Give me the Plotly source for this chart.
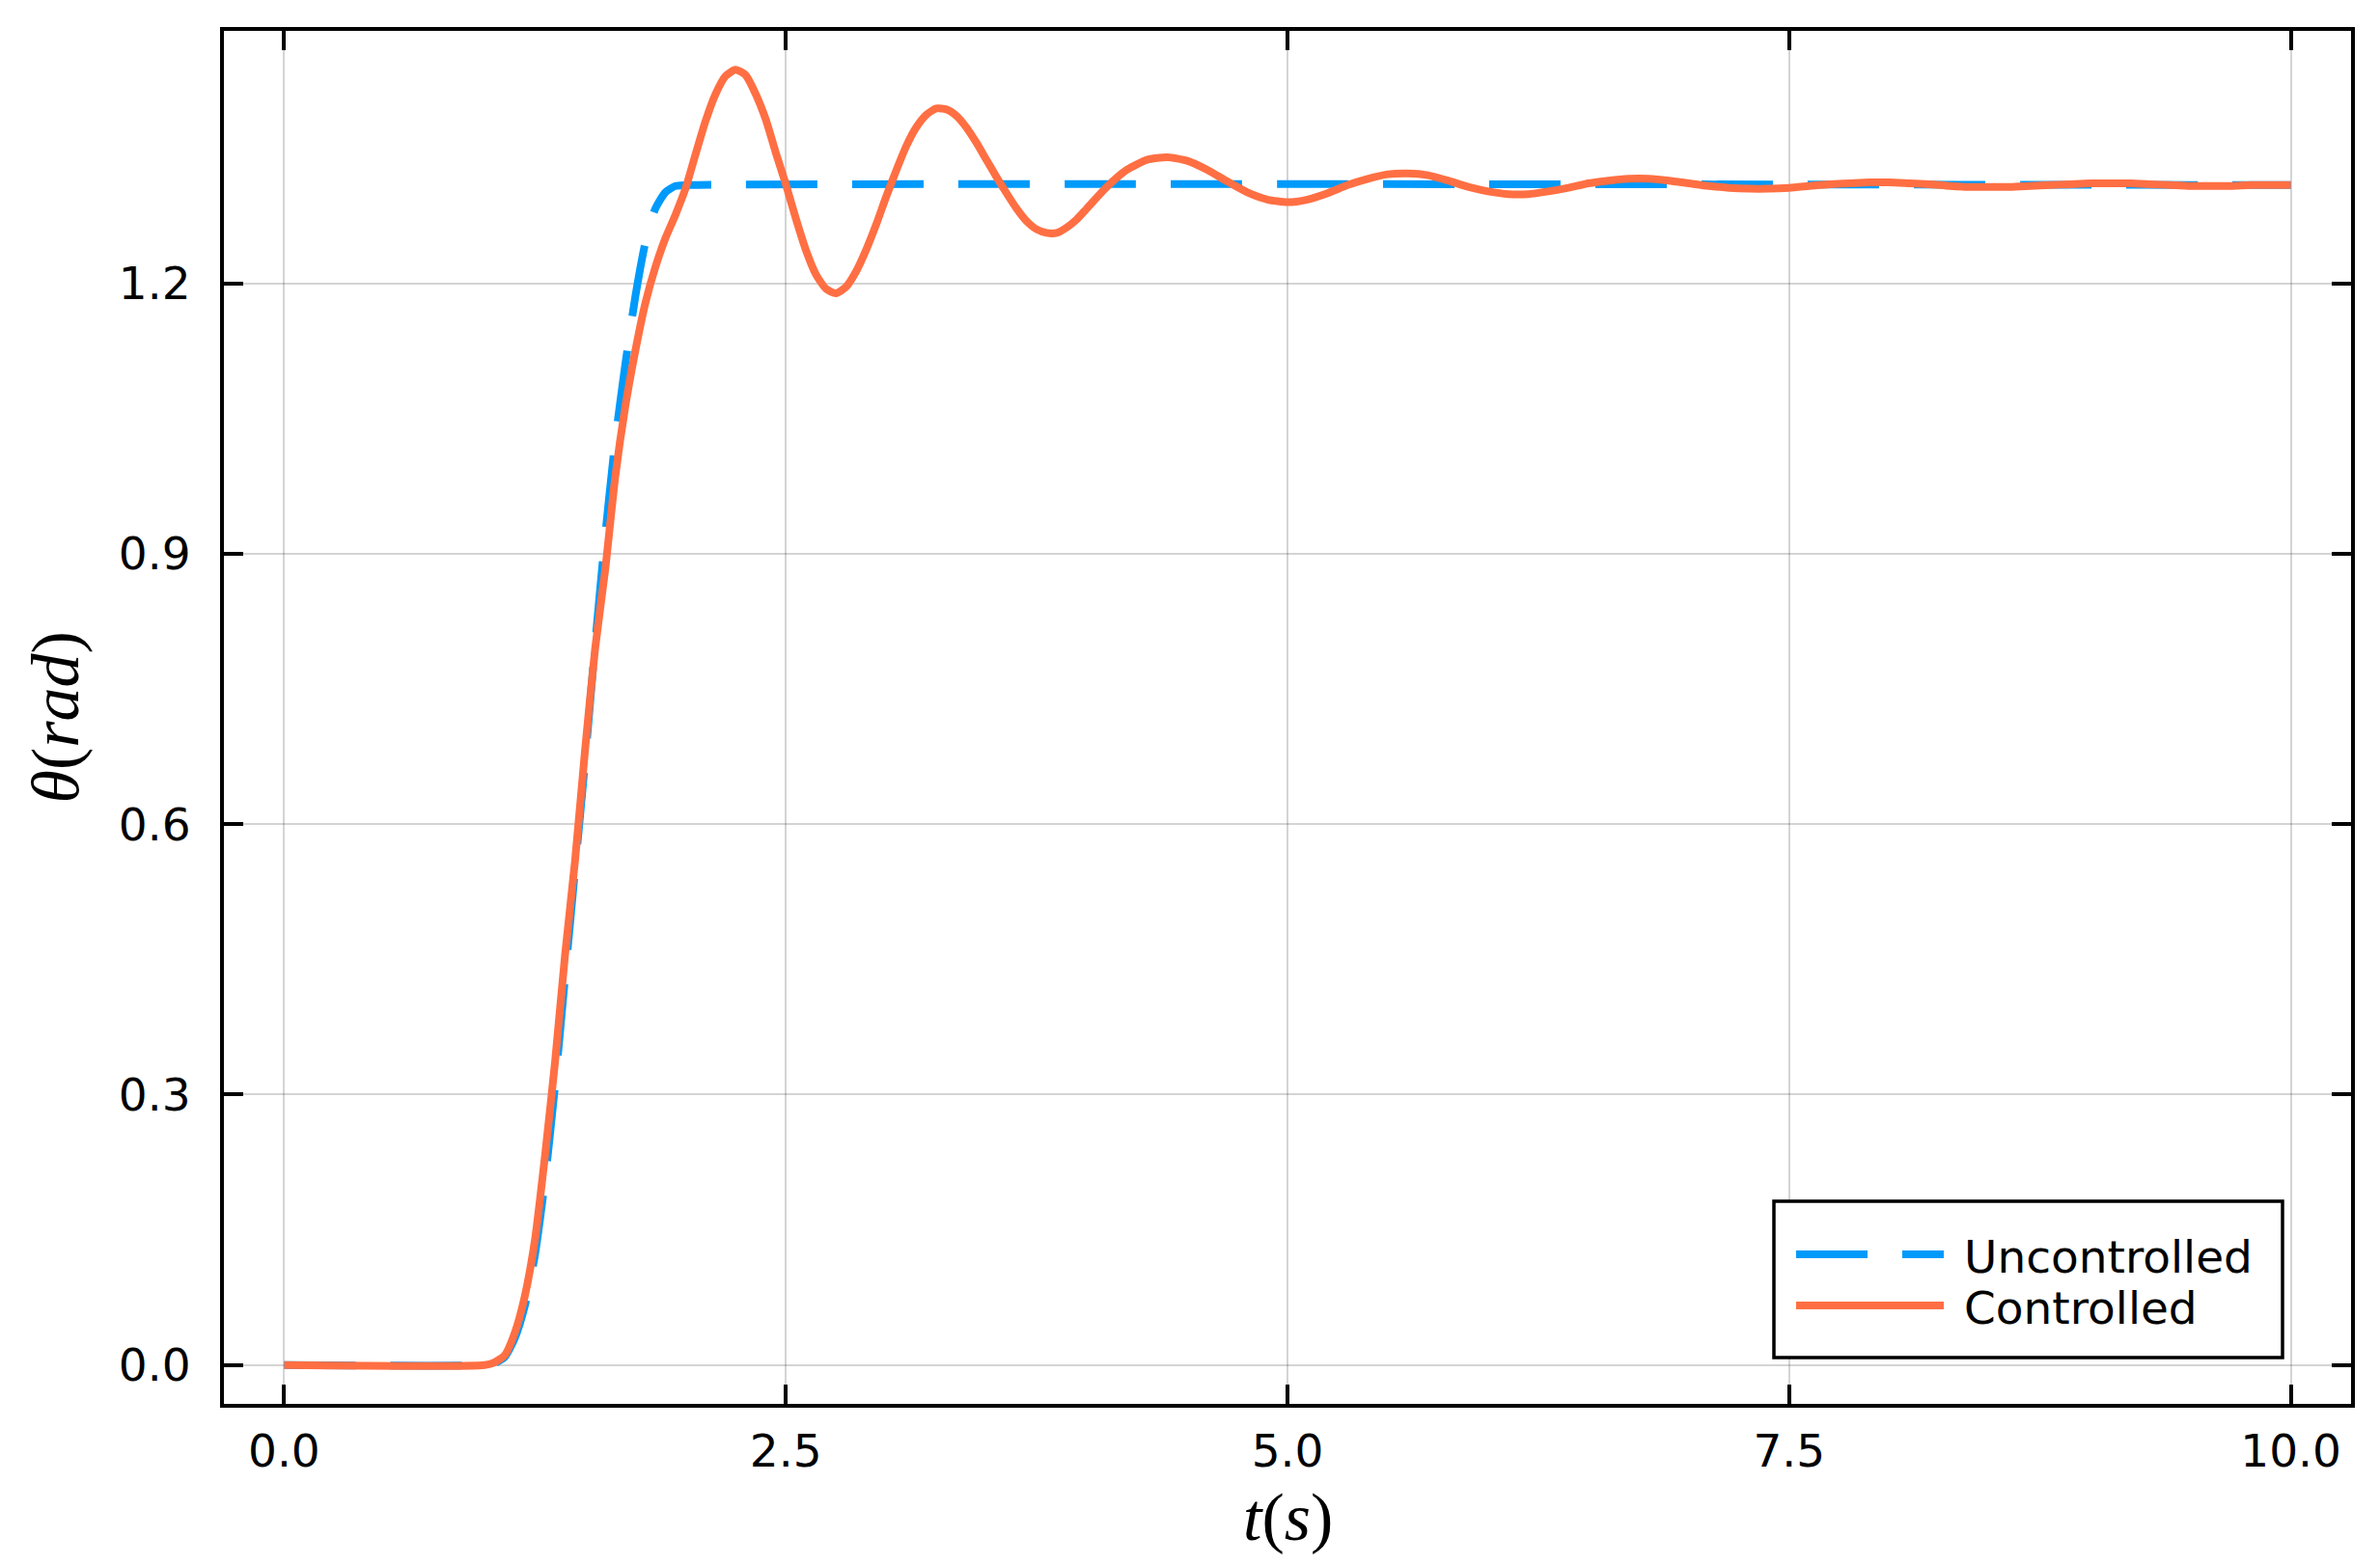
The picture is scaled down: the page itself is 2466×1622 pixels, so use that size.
import plotly.graph_objects as go

# ---------------- data ----------------
t_unc = [0.0, 1.0, 1.05, 1.10, 1.15, 1.20, 1.25, 1.30, 1.35, 1.40, 1.45, 1.50,
         1.55, 1.60, 1.65, 1.70, 1.75, 1.80, 1.85, 1.90, 1.95, 2.00, 10.0]
theta_unc = [0.0, 0.0, 0.002, 0.009, 0.030, 0.066, 0.122, 0.205, 0.310, 0.430,
             0.550, 0.670, 0.800, 0.920, 1.025, 1.110, 1.185, 1.245, 1.283,
             1.301, 1.308, 1.309, 1.309]

t_ctl = [0.0, 1.0, 1.05, 1.10, 1.15, 1.20, 1.25, 1.30, 1.35, 1.40, 1.45, 1.50,
         1.55, 1.60, 1.65, 1.70, 1.75, 1.80, 1.85, 1.90, 1.95, 2.00, 2.05, 2.10,
         2.15, 2.20, 2.25, 2.30, 2.35, 2.40, 2.45, 2.50, 2.55, 2.60, 2.65, 2.70,
         2.75, 2.80, 2.85, 2.90, 2.95, 3.00, 3.05, 3.10, 3.15, 3.20, 3.25, 3.30,
         3.35, 3.40, 3.45, 3.50, 3.55, 3.60, 3.65, 3.70, 3.75, 3.80, 3.85, 3.90,
         3.95, 4.00, 4.10, 4.20, 4.30, 4.40, 4.50, 4.60, 4.70, 4.80, 4.90, 5.00,
         5.10, 5.20, 5.30, 5.40, 5.50, 5.60, 5.70, 5.80, 5.90, 6.00, 6.10, 6.20,
         6.30, 6.40, 6.50, 6.60, 6.70, 6.80, 6.90, 7.00, 7.10, 7.20, 7.30, 7.40,
         7.50, 7.60, 7.70, 7.80, 7.90, 8.00, 8.10, 8.20, 8.30, 8.40, 8.50, 8.60,
         8.70, 8.80, 8.90, 9.00, 9.10, 9.20, 9.30, 9.40, 9.50, 9.60, 9.70, 9.80,
         9.90, 10.0]
theta_ctl = [0.0, 0.0, 0.003, 0.011, 0.036, 0.077, 0.139, 0.232, 0.336, 0.455,
             0.560, 0.683, 0.795, 0.882, 0.985, 1.063, 1.125, 1.178, 1.218, 1.250,
             1.276, 1.305, 1.343, 1.380, 1.410, 1.430, 1.437, 1.431, 1.410, 1.382,
             1.345, 1.310, 1.272, 1.237, 1.210, 1.194, 1.189, 1.196, 1.213, 1.237,
             1.265, 1.296, 1.325, 1.352, 1.373, 1.387, 1.394, 1.393, 1.386, 1.373,
             1.356, 1.337, 1.318, 1.300, 1.283, 1.269, 1.260, 1.256, 1.256, 1.262,
             1.271, 1.283, 1.307, 1.326, 1.337, 1.340, 1.336, 1.326, 1.313, 1.301,
             1.293, 1.290, 1.293, 1.300, 1.309, 1.316, 1.321, 1.322, 1.320, 1.314,
             1.307, 1.302, 1.299, 1.299, 1.302, 1.306, 1.311, 1.314, 1.316, 1.316,
             1.314, 1.311, 1.308, 1.306, 1.305, 1.305, 1.306, 1.308, 1.310, 1.311,
             1.312, 1.312, 1.311, 1.310, 1.308, 1.307, 1.307, 1.307, 1.308, 1.309,
             1.310, 1.311, 1.311, 1.311, 1.310, 1.309, 1.308, 1.308, 1.308, 1.309,
             1.309, 1.309]

x_ticks = [0.0, 2.5, 5.0, 7.5, 10.0]
x_tick_labels = ["0.0", "2.5", "5.0", "7.5", "10.0"]
y_ticks = [0.0, 0.3, 0.6, 0.9, 1.2]
y_tick_labels = ["0.0", "0.3", "0.6", "0.9", "1.2"]

series_names = ["Uncontrolled", "Controlled"]

# ---------------- style ----------------
BLUE = "#009AFA"
ORANGE = "#FF6F43"
LW = 8
DASH = "74px,36px"
TICK_FONT = dict(family="DejaVu Sans", size=47, color="black")
TITLE_FONT = dict(family="Liberation Serif", size=70, color="black")

fig = go.Figure()
fig.add_trace(go.Scatter(x=t_unc, y=theta_unc, mode="lines", name=series_names[0],
                         line=dict(color=BLUE, width=LW, dash=DASH, shape="spline",
                                   smoothing=0.6),
                         showlegend=False))
fig.add_trace(go.Scatter(x=t_ctl, y=theta_ctl, mode="lines", name=series_names[1],
                         line=dict(color=ORANGE, width=LW, shape="spline", smoothing=0.6),
                         showlegend=False))

axis_common = dict(
    showline=True, linecolor="black", linewidth=4, mirror="ticks",
    ticks="inside", ticklen=20, tickwidth=3.5, tickcolor="black",
    showgrid=True, gridcolor="rgba(0,0,0,0.17)", gridwidth=2,
    zeroline=False, tickfont=TICK_FONT,
)

fig.update_xaxes(range=[-0.3, 10.3], tickmode="array", tickvals=x_ticks,
                 ticktext=x_tick_labels, ticklabelstandoff=5, **axis_common)
fig.update_yaxes(range=[-0.0431, 1.4801], tickmode="array", tickvals=y_ticks,
                 ticktext=y_tick_labels, ticklabelstandoff=21, **axis_common)

# page has an 8px body margin -> figure is placed at (8, 8)
OFF = 8
W, H = 2466 - 2 * OFF, 1622 - 2 * OFF
L, R, T, B = 232 - OFF, 30 - OFF, 32 - OFF, 167 - OFF
PW, PH = W - L - R, H - T - B
PLOT_LEFT_PAGE, PLOT_BOTTOM_PAGE = L + OFF, T + OFF + PH


def px_x(px):
    return (px - PLOT_LEFT_PAGE) / PW


def px_y(py):
    return (PLOT_BOTTOM_PAGE - py) / PH


# axis titles
fig.add_annotation(text="<i>t</i>(<i>s</i>)", xref="paper", yref="paper",
                   x=0.5, y=px_y(1573), xanchor="center", yanchor="middle",
                   showarrow=False, font=TITLE_FONT)
fig.add_annotation(text="<i>θ</i>(<i>rad</i>)", xref="paper", yref="paper",
                   x=px_x(57), y=0.5, xanchor="center", yanchor="middle",
                   textangle=-90, showarrow=False, font=TITLE_FONT)

# legend box (drawn like the original)
fig.add_shape(type="rect", xref="paper", yref="paper",
              x0=px_x(1838), x1=px_x(2365), y0=px_y(1407), y1=px_y(1245),
              line=dict(color="black", width=3.5), fillcolor="white", layer="above")
legend_rows = [(1300, BLUE, DASH), (1353, ORANGE, "solid")]
for (row_y, col, dsh), name in zip(legend_rows, series_names):
    fig.add_shape(type="line", xref="paper", yref="paper",
                  x0=px_x(1861), x1=px_x(2014), y0=px_y(row_y), y1=px_y(row_y),
                  line=dict(color=col, width=8, dash=dsh), layer="above")
    fig.add_annotation(text=name, xref="paper", yref="paper",
                       x=px_x(2033), y=px_y(row_y + 2), xanchor="left", yanchor="middle",
                       showarrow=False, font=dict(family="DejaVu Sans", size=47, color="black"))

fig.update_layout(
    width=W, height=H,
    margin=dict(l=L, r=R, t=T, b=B, pad=0),
    paper_bgcolor="white", plot_bgcolor="white",
    showlegend=False,
)

fig.write_html("out.html")
